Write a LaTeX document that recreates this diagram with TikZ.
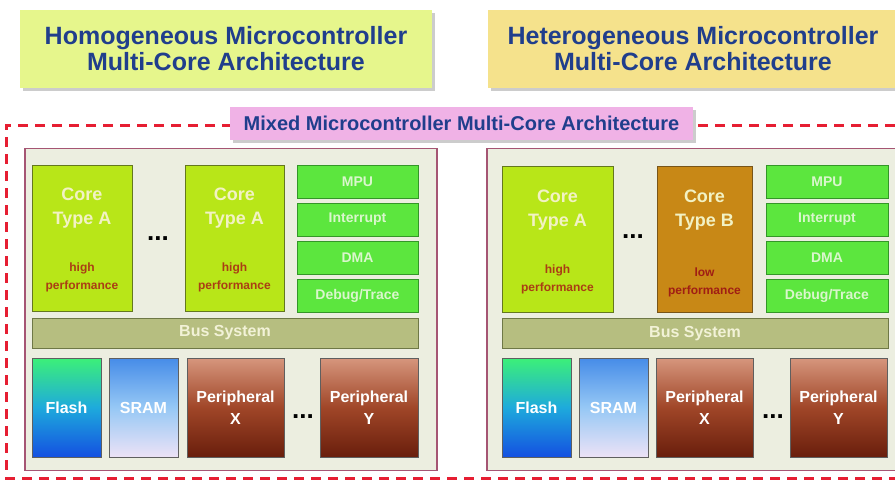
\documentclass[tikz,border=0pt]{standalone}
\usepackage{fontspec}
\setmainfont{Liberation Sans}
\usepackage{tikz}
\tikzset{x=1pt,y=-1pt}
\usetikzlibrary{shadows}
\definecolor{ttlblue}{RGB}{32,62,140}
\definecolor{homofill}{RGB}{230,246,140}
\definecolor{heterofill}{RGB}{245,226,140}
\definecolor{mixfill}{RGB}{240,178,230}
\definecolor{dashred}{RGB}{230,30,50}
\definecolor{panelfill}{RGB}{236,238,224}
\definecolor{paneldraw}{RGB}{165,85,115}
\definecolor{corea}{RGB}{184,230,24}
\definecolor{coreadraw}{RGB}{100,120,30}
\definecolor{coreb}{RGB}{200,136,22}
\definecolor{corebdraw}{RGB}{120,85,25}
\definecolor{coretxt}{RGB}{242,242,196}
\definecolor{perfhigh}{RGB}{170,62,20}
\definecolor{perflow}{RGB}{160,30,20}
\definecolor{unitfill}{RGB}{92,230,62}
\definecolor{unitdraw}{RGB}{52,150,40}
\definecolor{unittxt}{RGB}{218,246,205}
\definecolor{busfill}{RGB}{182,190,128}
\definecolor{busdraw}{RGB}{110,120,70}
\definecolor{bustxt}{RGB}{242,242,215}
\definecolor{memdraw}{RGB}{95,95,95}

\begin{document}
\begin{tikzpicture}[
  ttl/.style={fill=#1, drop shadow={shadow xshift=3pt,shadow yshift=-3pt,fill=black!40},
    text=ttlblue, align=center, inner sep=0pt},
  panel/.style={draw=paneldraw, line width=1.2pt, fill=panelfill, minimum height=322},
  core/.style={draw=#1draw, line width=1pt, fill=#1, minimum height=146},
  corelbl/.style={text=coretxt, align=center, font=\bfseries\fontsize{18}{24}\selectfont},
  perf/.style={text=#1, align=center, font=\bfseries\fontsize{12}{18}\selectfont},
  unit/.style={draw=unitdraw, line width=1pt, fill=unitfill, text=unittxt,
    font=\bfseries\fontsize{14}{14}\selectfont, minimum height=33},
  bus/.style={draw=busdraw, line width=1pt, fill=busfill, text=bustxt,
    font=\bfseries\fontsize{16}{16}\selectfont, minimum width=386, minimum height=30},
  mem/.style={draw=memdraw, line width=1pt, text=white, align=center,
    font=\bfseries\fontsize{16}{22}\selectfont, minimum height=99},
  flash/.style={mem, minimum width=69, top color={rgb,255:red,60;green,240;blue,120},
    bottom color={rgb,255:red,20;green,80;blue,225}, middle color={rgb,255:red,30;green,170;blue,220}},
  sram/.style={mem, minimum width=69, top color={rgb,255:red,70;green,140;blue,232},
    bottom color={rgb,255:red,236;green,226;blue,246}, middle color={rgb,255:red,150;green,200;blue,245}},
  periph/.style={mem, top color={rgb,255:red,214;green,150;blue,125},
    bottom color={rgb,255:red,105;green,30;blue,12}, middle color={rgb,255:red,160;green,70;blue,40}},
  dots/.style={inner sep=0pt, font=\bfseries\fontsize{26}{26}\selectfont}]
\useasboundingbox (0,0) rectangle (895,480);
\clip (0,0) rectangle (895,480);
% titles
\node[ttl=homofill, minimum width=412, minimum height=78,
  font=\bfseries\fontsize{25}{26}\selectfont] (homo) at (226,49)
  {Homogeneous Microcontroller\\Multi-Core Architecture};
\node[ttl=heterofill, minimum width=410, minimum height=78,
  font=\bfseries\fontsize{25}{26}\selectfont] (hetero) at (693,49)
  {Heterogeneous Microcontroller\\Multi-Core Architecture};
% mixed frame
\draw[dashred, line width=3pt, dash pattern=on 10pt off 7pt]
  (895,125) -| (6,478) -- (895,478);
\node[ttl=mixfill, minimum width=463, minimum height=33,
  font=\bfseries\fontsize{20}{20}\selectfont] (mixed) at (461.5,123.5)
  {Mixed Microcontroller Multi-Core Architecture};
%
% left: homogeneous
\node[panel, minimum width=412] (lpanel) at (231,309.5) {};
\node[core=corea, minimum width=100] (lcore1) at (82,238) {};
\node[corelbl] (lcore1t) at ([yshift=-44pt]lcore1.north) {Core\\Type A};
\node[perf=perfhigh] (lcore1p) at ([yshift=34pt]lcore1.south) {high\\performance};
\node[dots] (ldots1) at (158,239) {...};
\node[core=corea, minimum width=99] (lcore2) at (234.5,238) {};
\node[corelbl] (lcore2t) at ([yshift=-44pt]lcore2.north) {Core\\Type A};
\node[perf=perfhigh] (lcore2p) at ([yshift=34pt]lcore2.south) {high\\performance};
\foreach \t [count=\i] in {MPU,Interrupt,DMA,Debug/Trace}
  \node[unit, minimum width=121] (lunit\i) at (357.5,{143.5+38*\i}) {\t};
\node[bus] (lbus) at (225,333) {Bus System};
\node[flash] (lflash) at (66.5,407.5) {Flash};
\node[sram] (lsram) at (143.5,407.5) {SRAM};
\node[periph, minimum width=97] (lpx) at (235.5,407.5) {Peripheral\\X};
\node[dots] (ldots2) at (303,417) {...};
\node[periph, minimum width=98] (lpy) at (369,407.5) {Peripheral\\Y};
%
% right: heterogeneous
\node[panel, minimum width=412] (rpanel) at (693,309.5) {};
\node[core=corea, minimum width=111] (rcore1) at (557.5,239.5) {};
\node[corelbl] (rcore1t) at ([yshift=-44pt]rcore1.north) {Core\\Type A};
\node[perf=perfhigh] (rcore1p) at ([yshift=34pt]rcore1.south) {high\\performance};
\node[dots] (rdots1) at (633,237) {...};
\node[core=coreb, minimum width=95] (rcore2) at (704.5,239.5) {};
\node[corelbl] (rcore2t) at ([yshift=-44pt]rcore2.north) {Core\\Type B};
\node[perf=perflow] (rcore2p) at ([yshift=31pt]rcore2.south) {low\\performance};
\foreach \t [count=\i] in {MPU,Interrupt,DMA,Debug/Trace}
  \node[unit, minimum width=122] (runit\i) at (827,{143.5+38*\i}) {\t};
\node[bus] (rbus) at (695,333.5) {Bus System};
\node[flash] (rflash) at (536.5,407.5) {Flash};
\node[sram] (rsram) at (613.5,407.5) {SRAM};
\node[periph, minimum width=97] (rpx) at (704.5,407.5) {Peripheral\\X};
\node[dots] (rdots2) at (773,417) {...};
\node[periph, minimum width=97] (rpy) at (838.5,407.5) {Peripheral\\Y};
\end{tikzpicture}
\end{document}
